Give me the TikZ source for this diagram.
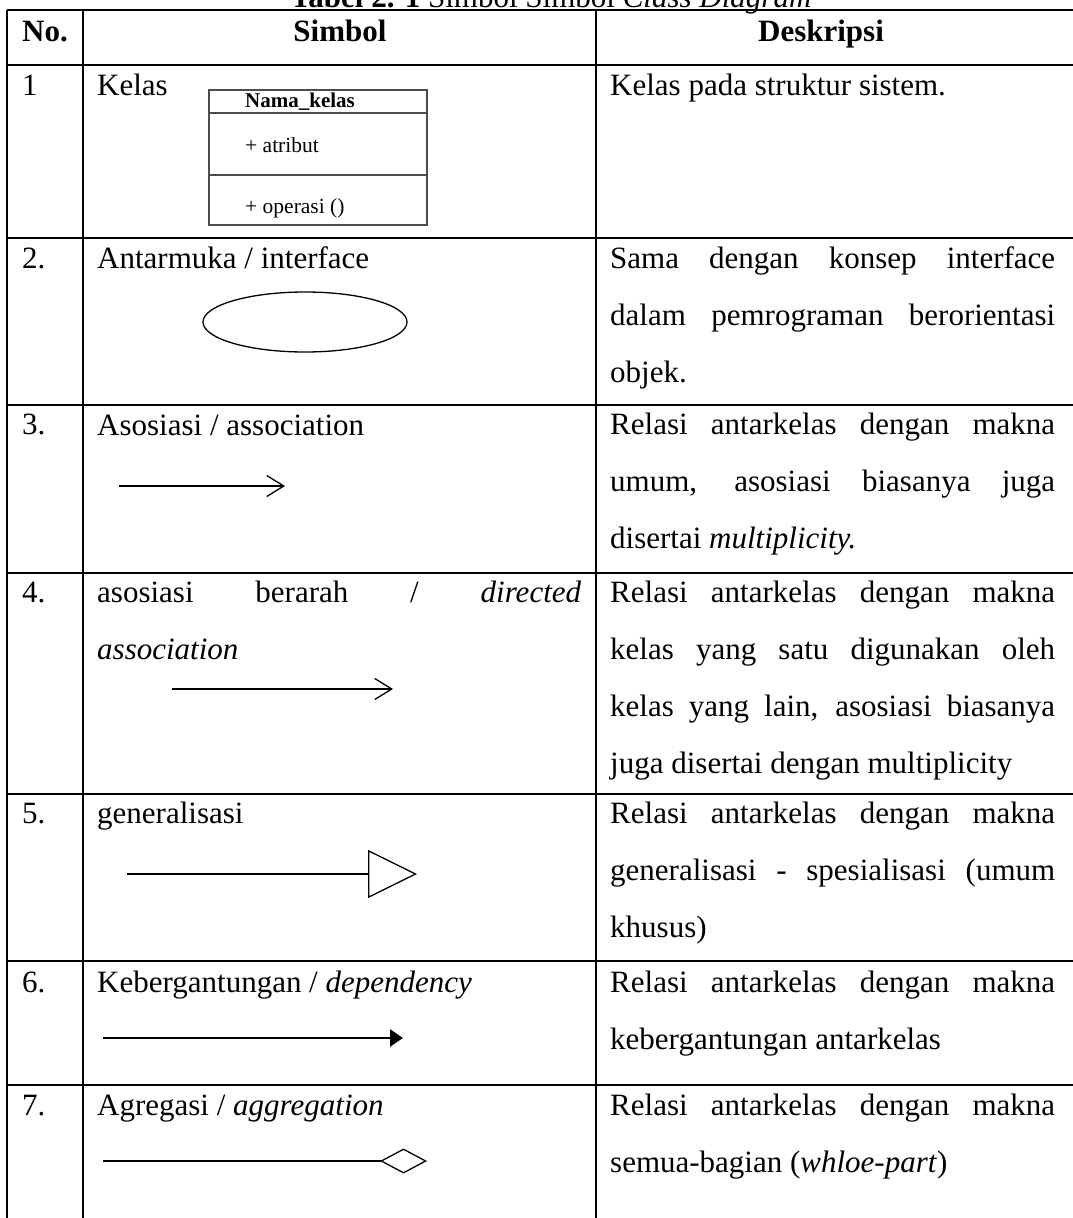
\documentclass[tikz,border=0pt]{standalone}
\usepackage{fontspec}
\setmainfont{Liberation Serif}
\usetikzlibrary{arrows.meta}

\newlength{\descw}\setlength{\descw}{445pt}
\newcommand{\jline}[2][\descw]{\makebox[#1][s]{#2}}

\begin{document}
\begin{tikzpicture}[x=1pt, y=-1pt,
  every node/.style={inner sep=0pt, font=\fontsize{31}{36}\selectfont},
  teks/.style={anchor=base west},
  kepala/.style={anchor=base, font=\fontsize{31}{36}\selectfont\bfseries},
  kecil/.style={anchor=base west, font=\fontsize{21.5}{24}\selectfont},
  garis/.style={line width=1.3pt},
  kotak/.style={line width=1.8pt, draw=black!70},
  assoc/.style={line width=1.3pt, -{Straight Barb[length=17pt, width=21pt, line width=1.3pt]}},
  gen/.style={line width=1.3pt, -{Triangle[open, length=49pt, width=48pt, fill=white, line width=1.3pt]}},
  dep/.style={line width=2.5pt, -{Triangle[length=13pt, width=17pt]}},
  agr/.style={line width=1.3pt, -{Diamond[open, length=47pt, width=25pt, fill=white, line width=1.3pt]}}]
\clip (0,0) rectangle (1073,1218);

% =====================
% JUDUL
% =====================
\node[anchor=base] (judul) at (551,7) {\textbf{Tabel 2. 1} Simbol Simbol \textit{Class Diagram}};

% =====================
% GARIS TABEL
% =====================
\foreach \y in {10,65,238,405,573,794,961,1085}
  \draw[garis] (7,\y) -- (1080,\y);
\foreach \x in {7,83,596}
  \draw[garis] (\x,10) -- (\x,1230);

% =====================
% KEPALA TABEL
% =====================
\node[kepala] (hno) at (45,41) {No.};
\node[kepala] (hsimbol) at (340,41) {Simbol};
\node[kepala] (hdesk) at (821,41) {Deskripsi};

% =====================
% NOMOR
% =====================
\node[teks] (n1) at (22,95) {1};
\node[teks] (n2) at (22,268) {2.};
\node[teks] (n3) at (22,434) {3.};
\node[teks] (n4) at (22,602) {4.};
\node[teks] (n5) at (22,823) {5.};
\node[teks] (n6) at (22,992) {6.};
\node[teks] (n7) at (22,1115) {7.};

% =====================
% SIMBOL
% =====================
\node[teks] (s1) at (97,95) {Kelas};
\draw[kotak] (209,90) rectangle (427,225);
\draw[kotak] (209,113) -- (427,113);
\draw[kotak] (209,175) -- (427,175);
\node[kecil, font=\fontsize{21}{24}\selectfont\bfseries] (kelasnama) at (245,107) {Nama\_kelas};
\node[kecil] (atribut) at (245,152) {+ atribut};
\node[kecil] (operasi) at (245,213) {+ operasi ()};

\node[teks] (s2) at (97,268) {Antarmuka / interface};
\draw[garis] (305,322) ellipse [x radius=102, y radius=30];

\node[teks] (s3) at (97,435) {Asosiasi / association};
\coordinate (a3) at (119,486);
\coordinate (b3) at (285,486);
\draw[assoc] (a3) -- (b3);

\node[teks] (s4a) at (97,602) {\jline[484pt]{asosiasi berarah / \textit{directed}}};
\node[teks] (s4b) at (97,659) {\textit{association}};
\coordinate (a4) at (172,689);
\coordinate (b4) at (393,689);
\draw[assoc] (a4) -- (b4);

\node[teks] (s5) at (97,823) {generalisasi};
\coordinate (a5) at (127,874);
\coordinate (b5) at (417,874);
\draw[gen] (a5) -- (b5);

\node[teks] (s6) at (97,992) {Kebergantungan / \textit{dependency}};
\coordinate (a6) at (103,1038);
\coordinate (b6) at (403,1038);
\draw[dep] (a6) -- (b6);

\node[teks] (s7) at (97,1115) {Agregasi / \textit{aggregation}};
\coordinate (a7) at (103,1161);
\coordinate (b7) at (427,1161);
\draw[agr] (a7) -- (b7);

% =====================
% DESKRIPSI
% =====================
\node[teks] (d1) at (610,95) {Kelas pada struktur sistem.};

\node[teks] (d2a) at (610,268) {\jline{Sama dengan konsep interface}};
\node[teks] (d2b) at (610,325) {\jline{dalam pemrograman berorientasi}};
\node[teks] (d2c) at (610,382) {objek.};

\node[teks] (d3a) at (610,434) {\jline{Relasi antarkelas dengan makna}};
\node[teks] (d3b) at (610,491) {\jline{umum, asosiasi biasanya juga}};
\node[teks] (d3c) at (610,548) {disertai \textit{multiplicity.}};

\node[teks] (d4a) at (610,602) {\jline{Relasi antarkelas dengan makna}};
\node[teks] (d4b) at (610,659) {\jline{kelas yang satu digunakan oleh}};
\node[teks] (d4c) at (610,716) {\jline{kelas yang lain, asosiasi biasanya}};
\node[teks] (d4d) at (610,773) {juga disertai dengan multiplicity};

\node[teks] (d5a) at (610,823) {\jline{Relasi antarkelas dengan makna}};
\node[teks] (d5b) at (610,880) {\jline{generalisasi - spesialisasi (umum}};
\node[teks] (d5c) at (610,937) {khusus)};

\node[teks] (d6a) at (610,992) {\jline{Relasi antarkelas dengan makna}};
\node[teks] (d6b) at (610,1049) {kebergantungan antarkelas};

\node[teks] (d7a) at (610,1115) {\jline{Relasi antarkelas dengan makna}};
\node[teks] (d7b) at (610,1172) {semua-bagian (\textit{whloe-part})};

\end{tikzpicture}
\end{document}
